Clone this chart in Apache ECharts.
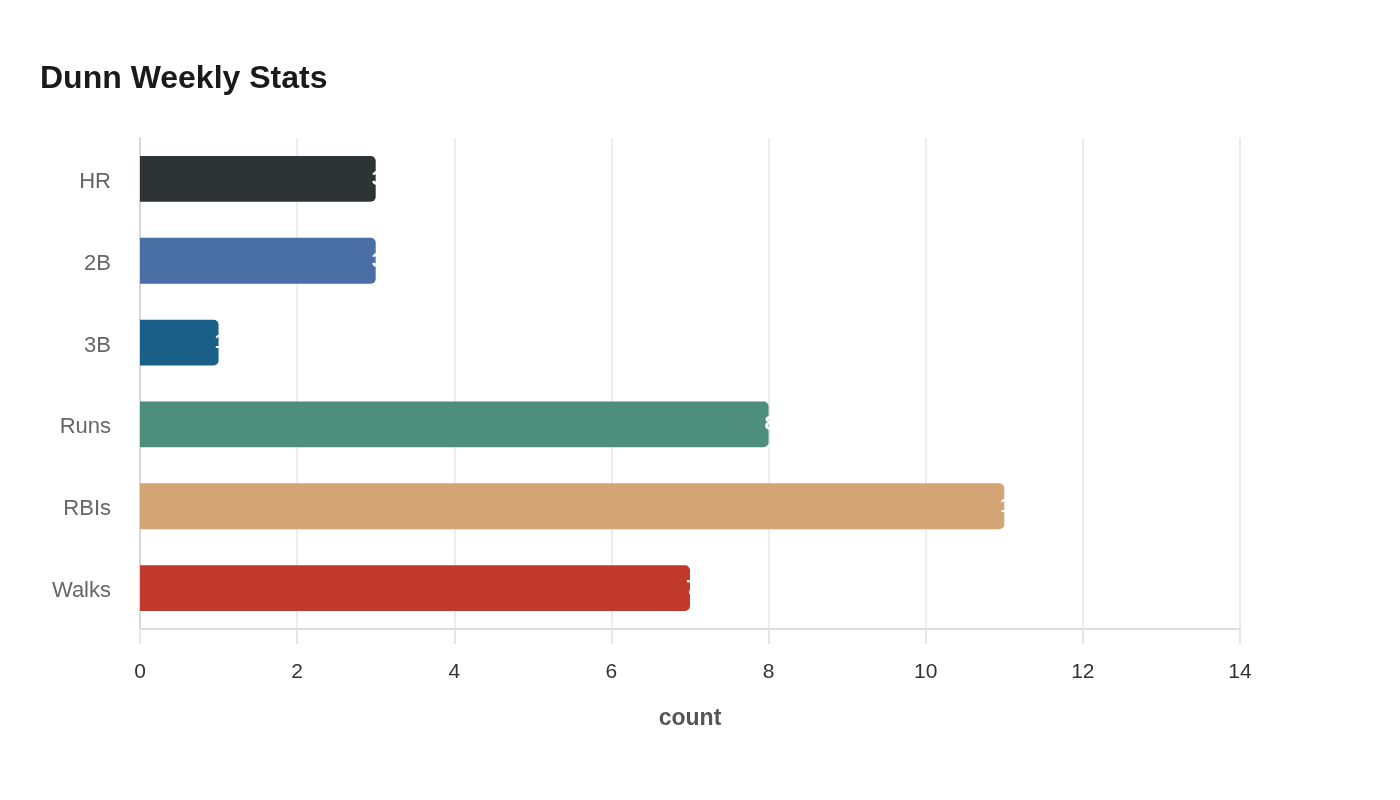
<!DOCTYPE html>
<html>
<head>
    <meta charset="UTF-8">
    <title>Dunn Weekly Stats</title>
    <script src="https://cdn.jsdelivr.net/npm/echarts@6/dist/echarts.min.js"></script>
    <style>
        html, body { margin: 0; padding: 0; background: #fff; }
        #chart { width: 1400px; height: 800px; }
    </style>
</head>
<body>
    <div id="chart"></div>
    <script>
        // stats for the week
        var categories = ['HR', '2B', '3B', 'Runs', 'RBIs', 'Walks'];
        var counts = [3, 3, 1, 8, 11, 7];
        var barColors = ['#2e3436', '#4a6fa5', '#1a5f87', '#4e8e7c', '#d4a574', '#c0392b'];
        var xTicks = [0, 2, 4, 6, 8, 10, 12, 14];

        var chart = echarts.init(document.getElementById('chart'), null, {renderer: 'canvas'});
        var font = '"Liberation Sans", Arial, sans-serif';

        chart.setOption({
            animation: false,
            title: {
                text: 'Dunn Weekly Stats',
                left: 35,
                top: 58,
                textStyle: {fontFamily: font, fontSize: 32, fontWeight: 'bold', color: '#1a1a1a'}
            },
            grid: {left: 140, right: 160, top: 138, bottom: 171},
            xAxis: {
                type: 'value',
                min: xTicks[0],
                max: xTicks[xTicks.length - 1],
                interval: 2,
                name: 'count',
                nameLocation: 'middle',
                nameGap: 78,
                nameTextStyle: {fontFamily: font, fontSize: 23, fontWeight: 'bold', color: '#555'},
                axisLine: {show: true, lineStyle: {color: '#dcdcdc', width: 2}},
                axisTick: {show: true, length: 15, lineStyle: {color: '#e6e6e6', width: 2}},
                axisLabel: {fontFamily: font, fontSize: 21, color: '#333', margin: 33},
                splitLine: {show: true, lineStyle: {color: '#ececec', width: 2}}
            },
            yAxis: {
                type: 'category',
                data: categories,
                inverse: true,
                axisLine: {show: true, lineStyle: {color: '#d8d8d8', width: 2}},
                axisTick: {show: false},
                axisLabel: {
                    margin: 29,
                    formatter: '{a|{value}}',
                    rich: {a: {fontFamily: font, fontSize: 22, color: '#666', padding: [6, 0, 0, 0]}}
                },
                splitLine: {show: false}
            },
            series: [{
                type: 'bar',
                barWidth: '56%',
                data: counts.map(function (v, i) {
                    return {value: v, itemStyle: {color: barColors[i], borderRadius: [0, 5, 5, 0]}};
                }),
                label: {
                    show: true,
                    position: 'right',
                    distance: 0,
                    offset: [-4, 0],
                    color: '#fff',
                    fontFamily: font,
                    fontSize: 21,
                    fontWeight: 'bold'
                }
            }]
        });
    </script>
</body>
</html>
